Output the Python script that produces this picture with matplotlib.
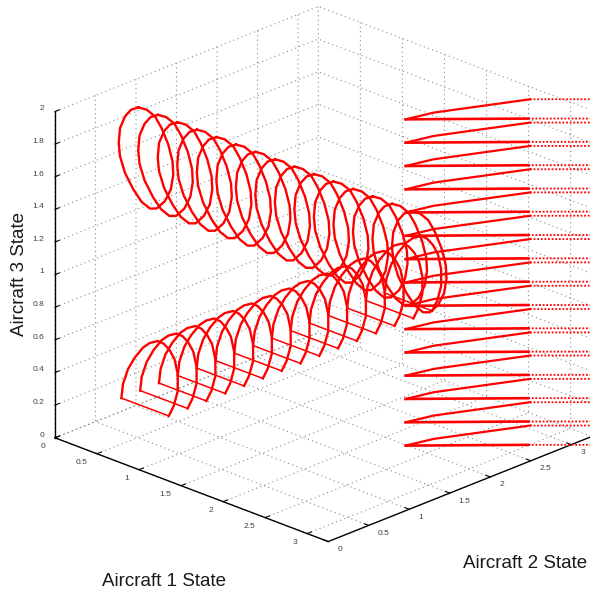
import matplotlib
matplotlib.use('Agg')
import matplotlib.pyplot as plt
from mpl_toolkits.mplot3d import proj3d

# sweep positions of the 15 repeated shapes
sweep_pos = [0, 0.232, 0.464, 0.696, 0.929, 1.161, 1.393, 1.625, 1.857, 2.089, 2.321, 2.554, 2.786, 3.018, 3.25]
fan_z = [0, 0.143, 0.286, 0.429, 0.571, 0.714, 0.857, 1, 1.143, 1.286, 1.429, 1.571, 1.714, 1.857, 2]

# ring outline, aircraft 2 / aircraft 3 state
ring_y = [1.030, 1.132, 1.234, 1.316, 1.399, 1.451, 1.460, 1.430, 1.357, 1.255, 1.172, 1.070, 0.968, 0.865, 0.803, 0.787, 0.803, 0.865, 0.938, 1.030]
ring_z = [1.821, 1.787, 1.726, 1.638, 1.520, 1.407, 1.324, 1.239, 1.182, 1.157, 1.173, 1.234, 1.330, 1.452, 1.566, 1.651, 1.739, 1.799, 1.825, 1.821]

# arch outline, aircraft 1 / aircraft 3 state
arch_x = [0.790, 0.809, 0.868, 0.948, 1.046, 1.126, 1.224, 1.295, 1.363, 1.422, 1.461, 1.461, 1.413, 1.354]
arch_z = [0.398, 0.487, 0.590, 0.676, 0.757, 0.801, 0.833, 0.830, 0.805, 0.760, 0.675, 0.573, 0.472, 0.399]

# wedge at constant aircraft 3 state
upper_x = [2.256, 2.324, 2.707]
upper_y = [1.987, 2.262, 3.053]
upper_dot_x = [2.707, 3.097]
upper_dot_y = [3.053, 3.440]
lower_x = [2.256, 2.991]
lower_y = [1.987, 2.737]
lower_dot_x = [2.991, 3.391]
lower_dot_y = [2.737, 3.134]

xy_ticks = [0, 0.5, 1, 1.5, 2, 2.5, 3]
xy_labels = ['0', '0.5', '1', '1.5', '2', '2.5', '3']
z_ticks = [0, 0.2, 0.4, 0.6, 0.8, 1, 1.2, 1.4, 1.6, 1.8, 2]
z_labels = ['0', '0.2', '0.4', '0.6', '0.8', '1', '1.2', '1.4', '1.6', '1.8', '2']

plt.rcParams['font.family'] = ['Liberation Sans', 'DejaVu Sans']
plt.rcParams['grid.linestyle'] = (0, (1, 3))
plt.rcParams['grid.color'] = '#8a8a8a'
plt.rcParams['grid.linewidth'] = 0.8
plt.rcParams['axes.linewidth'] = 1.0

fig = plt.figure(figsize=(5.9, 5.95), dpi=100)
ax = fig.add_axes([20.3 / 590, 15.5 / 595, 1.0, 1.0], projection='3d', proj_type='ortho')
ax.view_init(elev=22.9, azim=-45.7)
ax.set_box_aspect((382.7, 378, 355), zoom=1.058)
ax.set_xlim(0, 3.25, view_margin=0)
ax.set_ylim(0, 3.25, view_margin=0)
ax.set_zlim(0, 2, view_margin=0)

red = '#ff0000'
for i in range(15):
    ax.plot([sweep_pos[i]] * len(ring_y), ring_y, ring_z, color=red, lw=1.7, solid_joinstyle='round')
    ax.plot(arch_x, [sweep_pos[i]] * len(arch_x), arch_z, color=red, lw=1.7, solid_joinstyle='round')
    ax.plot([arch_x[0], arch_x[-1]], [sweep_pos[i]] * 2, [arch_z[0], arch_z[-1]], color=red, lw=1.1)
    ax.plot(upper_x, upper_y, [fan_z[i]] * 3, color=red, lw=1.6)
    ax.plot(lower_x, lower_y, [fan_z[i]] * 2, color=red, lw=1.9)
    ax.plot(upper_dot_x, upper_dot_y, [fan_z[i]] * 2, color=red, lw=1.3, ls=(0, (1, 1)))
    ax.plot(lower_dot_x, lower_dot_y, [fan_z[i]] * 2, color=red, lw=1.3, ls=(0, (1, 1)))

ax.set_xticks(xy_ticks)
ax.set_yticks(xy_ticks)
ax.set_zticks(z_ticks)
ax.zaxis.set_ticks_position('lower')

for axis in (ax.xaxis, ax.yaxis, ax.zaxis):
    axis.set_pane_color((1, 1, 1, 0))
    axis.pane.set_edgecolor((1, 1, 1, 0))
    axis.line.set_color('black')
    axis.line.set_linewidth(1.0)
    axis.label.set_visible(False)
    axis.offsetText.set_visible(False)
    axis._axinfo['tick']['inward_factor'] = 0.0
    axis._axinfo['tick']['outward_factor'] = 0.2
    for tick in axis.get_major_ticks():
        tick.label1.set_visible(False)
        tick.label2.set_visible(False)

# projection is only final after a draw
fig.canvas.draw()

def tick_text(x, y, z, lab, ha):
    # mplot3d cant place tick labels like matlab does, so put them on the figure
    px, py, _ = proj3d.proj_transform(x, y, z, ax.get_proj())
    dx, dy = ax.transData.transform((px, py))
    fig.text(dx / 590, dy / 595, lab, ha=ha, va='center', fontsize=6, color='#404040')

for t, lab in zip(xy_ticks, xy_labels):
    tick_text(t, -0.123, -0.031, lab, 'right')
    tick_text(3.357, t, -0.028, lab, 'left')
for t, lab in zip(z_ticks, z_labels):
    tick_text(-0.125, 0, t - 0.008, lab, 'right')

fig.text(164 / 590, 1 - 582 / 595, 'Aircraft 1 State', fontsize=13.5, ha='center', va='center', color='#1a1a1a')
fig.text(525.5 / 590, 1 - 564 / 595, 'Aircraft 2 State', fontsize=13.5, ha='center', va='center', color='#1a1a1a')
fig.text(20 / 590, 1 - 274 / 595, 'Aircraft 3 State', fontsize=13.5, ha='center', va='center', rotation=90, color='#1a1a1a')

fig.savefig('out.png', dpi=100)
